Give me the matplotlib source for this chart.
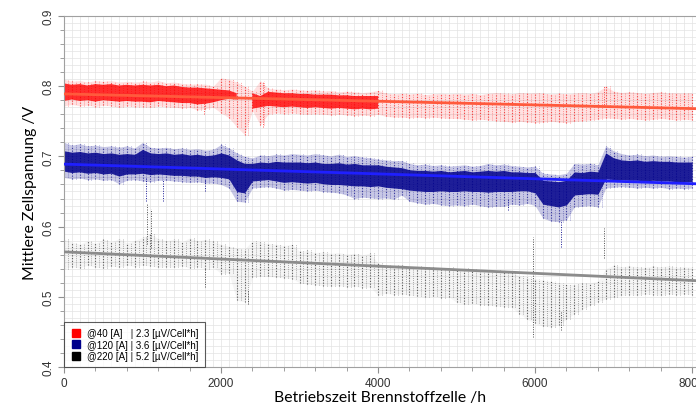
import numpy as np
import matplotlib
matplotlib.use("Agg")
import matplotlib.pyplot as plt
from matplotlib.lines import Line2D
from matplotlib.ticker import MultipleLocator

nan = np.nan

# operating time, one sample every 100 h
hours = list(range(0, 8100, 100))

# @40 A  (outer scatter extent and dense core)
red_hi = [0.810, 0.807, 0.808, 0.806, 0.808, 0.807, 0.808, 0.806, 0.807, 0.806,
          0.807, 0.806, 0.808, 0.805, 0.806, 0.804, 0.803, 0.803, 0.803, 0.800,
          0.812, 0.810, 0.806, 0.800, 0.793, 0.808, 0.797, 0.796, 0.795, 0.796,
          0.795, 0.794, 0.795, 0.793, 0.794, 0.792, 0.793, 0.792, 0.791, 0.792,
          0.794, 0.790, 0.789, 0.790, 0.789, 0.790, 0.788, 0.789, 0.790, 0.789,
          0.790, 0.789, 0.790, 0.788, 0.790, 0.791, 0.790, 0.789, 0.791, 0.790,
          0.791, 0.790, 0.789, 0.790, 0.789, 0.790, 0.791, 0.790, 0.792, 0.800,
          0.793, 0.791, 0.792, 0.791, 0.790, 0.791, 0.792, 0.790, 0.791, 0.790, 0.791]
red_lo = [0.772, 0.774, 0.772, 0.773, 0.771, 0.773, 0.772, 0.770, 0.772, 0.771,
          0.771, 0.770, 0.772, 0.771, 0.770, 0.769, 0.770, 0.766, 0.768, 0.770,
          0.762, 0.755, 0.742, 0.731, 0.765, 0.745, 0.760, 0.762, 0.761, 0.762,
          0.761, 0.760, 0.761, 0.760, 0.759, 0.760, 0.759, 0.758, 0.759, 0.758,
          0.760, 0.757, 0.756, 0.756, 0.755, 0.756, 0.755, 0.756, 0.755, 0.754,
          0.754, 0.753, 0.752, 0.753, 0.752, 0.751, 0.750, 0.749, 0.750, 0.749,
          0.748, 0.749, 0.750, 0.749, 0.748, 0.750, 0.751, 0.752, 0.753, 0.755,
          0.754, 0.753, 0.754, 0.753, 0.752, 0.753, 0.754, 0.753, 0.752, 0.753, 0.752]
red_core_hi = [0.804, 0.802, 0.803, 0.801, 0.803, 0.802, 0.803, 0.801, 0.802, 0.801,
               0.802, 0.801, 0.802, 0.800, 0.801, 0.799, 0.798, 0.798, 0.797, 0.796,
               0.795, 0.794, 0.790, nan, 0.790, 0.786, 0.792, 0.791, 0.790, 0.790,
               0.789, 0.789, 0.788, 0.788, 0.788, 0.787, 0.787, 0.786, 0.786, 0.786,
               0.786] + [nan] * 40
red_core_lo = [0.779, 0.781, 0.779, 0.780, 0.778, 0.780, 0.779, 0.778, 0.779, 0.778,
               0.778, 0.777, 0.779, 0.778, 0.777, 0.776, 0.776, 0.774, 0.775, 0.777,
               0.780, 0.782, 0.781, nan, 0.768, 0.770, 0.772, 0.771, 0.770, 0.771,
               0.770, 0.769, 0.770, 0.769, 0.768, 0.769, 0.768, 0.767, 0.768, 0.767,
               0.768] + [nan] * 40

# @120 A
blue_hi = [0.720, 0.716, 0.718, 0.715, 0.716, 0.714, 0.715, 0.713, 0.715, 0.712,
           0.720, 0.713, 0.712, 0.713, 0.711, 0.712, 0.710, 0.711, 0.709, 0.710,
           0.717, 0.712, 0.705, 0.700, 0.698, 0.702, 0.701, 0.703, 0.702, 0.704,
           0.703, 0.702, 0.704, 0.702, 0.701, 0.703, 0.700, 0.701, 0.699, 0.698,
           0.696, 0.695, 0.694, 0.694, 0.690, 0.688, 0.689, 0.687, 0.688, 0.686,
           0.687, 0.688, 0.686, 0.687, 0.690, 0.688, 0.689, 0.687, 0.686, 0.685,
           0.686, 0.676, 0.675, 0.674, 0.676, 0.690, 0.689, 0.690, 0.688, 0.715,
           0.708, 0.704, 0.702, 0.703, 0.701, 0.702, 0.700, 0.701, 0.700, 0.699, 0.700]
blue_lo = [0.670, 0.668, 0.669, 0.667, 0.668, 0.666, 0.667, 0.661, 0.666, 0.667,
           0.665, 0.664, 0.666, 0.666, 0.665, 0.664, 0.663, 0.664, 0.662, 0.662,
           0.660, 0.655, 0.636, 0.635, 0.655, 0.656, 0.657, 0.655, 0.652, 0.653,
           0.652, 0.651, 0.652, 0.650, 0.649, 0.648, 0.645, 0.640, 0.642, 0.641,
           0.640, 0.641, 0.639, 0.645, 0.636, 0.634, 0.632, 0.633, 0.631, 0.630,
           0.631, 0.630, 0.632, 0.630, 0.628, 0.629, 0.629, 0.632, 0.631, 0.633,
           0.630, 0.612, 0.608, 0.607, 0.610, 0.628, 0.629, 0.630, 0.628, 0.655,
           0.656, 0.657, 0.656, 0.655, 0.656, 0.655, 0.656, 0.654, 0.655, 0.654, 0.655]
blue_core_hi = [0.708, 0.706, 0.707, 0.705, 0.706, 0.704, 0.705, 0.703, 0.704, 0.703,
                0.710, 0.705, 0.704, 0.705, 0.703, 0.704, 0.702, 0.703, 0.701, 0.702,
                0.705, 0.702, 0.695, 0.690, 0.690, 0.692, 0.691, 0.693, 0.692, 0.692,
                0.692, 0.691, 0.692, 0.690, 0.690, 0.691, 0.689, 0.690, 0.688, 0.688,
                0.688, 0.686, 0.685, 0.684, 0.681, 0.680, 0.680, 0.679, 0.680, 0.678,
                0.679, 0.680, 0.678, 0.679, 0.680, 0.679, 0.680, 0.678, 0.678, 0.677,
                0.677, 0.666, 0.665, 0.664, 0.666, 0.678, 0.677, 0.679, 0.678, 0.705,
                0.698, 0.695, 0.694, 0.695, 0.693, 0.694, 0.693, 0.693, 0.692, 0.692, 0.692]
blue_core_lo = [0.679, 0.677, 0.678, 0.676, 0.677, 0.675, 0.676, 0.672, 0.675, 0.675,
                0.676, 0.674, 0.675, 0.674, 0.673, 0.673, 0.672, 0.672, 0.670, 0.671,
                0.670, 0.668, 0.650, 0.648, 0.665, 0.666, 0.667, 0.665, 0.663, 0.664,
                0.663, 0.662, 0.663, 0.661, 0.660, 0.660, 0.659, 0.658, 0.658, 0.657,
                0.658, 0.656, 0.655, 0.654, 0.652, 0.651, 0.650, 0.650, 0.651, 0.650,
                0.650, 0.651, 0.650, 0.650, 0.649, 0.650, 0.650, 0.650, 0.651, 0.651,
                0.648, 0.632, 0.630, 0.628, 0.631, 0.645, 0.646, 0.647, 0.646, 0.668,
                0.667, 0.667, 0.666, 0.666, 0.665, 0.666, 0.665, 0.665, 0.664, 0.664, 0.664]

# @220 A
black_hi = [0.582, 0.578, 0.575, 0.580, 0.576, 0.582, 0.578, 0.583, 0.577, 0.580,
            0.585, 0.590, 0.583, 0.580, 0.582, 0.578, 0.584, 0.580, 0.582, 0.579,
            0.575, 0.572, 0.570, 0.568, 0.580, 0.578, 0.576, 0.575, 0.573, 0.575,
            0.565, 0.566, 0.563, 0.564, 0.562, 0.563, 0.561, 0.562, 0.560, 0.562,
            0.548, 0.545, 0.546, 0.546, 0.543, 0.544, 0.542, 0.543, 0.541, 0.542,
            0.540, 0.541, 0.539, 0.538, 0.537, 0.538, 0.536, 0.535, 0.530, 0.528,
            0.526, 0.524, 0.522, 0.520, 0.518, 0.518, 0.519, 0.520, 0.522, 0.540,
            0.545, 0.543, 0.544, 0.543, 0.542, 0.544, 0.543, 0.544, 0.542, 0.543, 0.542]
black_lo = [0.540, 0.543, 0.541, 0.545, 0.542, 0.541, 0.544, 0.542, 0.545, 0.543,
            0.545, 0.544, 0.542, 0.543, 0.542, 0.544, 0.541, 0.543, 0.540, 0.542,
            0.533, 0.534, 0.495, 0.493, 0.528, 0.530, 0.529, 0.528, 0.527, 0.526,
            0.520, 0.518, 0.517, 0.516, 0.515, 0.516, 0.514, 0.515, 0.513, 0.514,
            0.502, 0.505, 0.503, 0.504, 0.502, 0.501, 0.500, 0.501, 0.499, 0.500,
            0.492, 0.490, 0.491, 0.489, 0.488, 0.487, 0.486, 0.485, 0.476, 0.468,
            0.462, 0.458, 0.457, 0.460, 0.468, 0.476, 0.482, 0.488, 0.493, 0.497,
            0.500, 0.502, 0.503, 0.502, 0.504, 0.503, 0.502, 0.504, 0.503, 0.504, 0.503]

# isolated vertical streaks: (hour, low, high)
red_spikes = [(1780, 0.760, 0.778), (2540, 0.742, 0.806), (6880, 0.770, 0.800)]
blue_spikes = [(1050, 0.636, 0.670), (1265, 0.636, 0.668), (1800, 0.651, 0.668),
               (5650, 0.623, 0.640), (6330, 0.571, 0.610)]
black_spikes = [(1060, 0.575, 0.632), (1110, 0.570, 0.625), (1800, 0.514, 0.540),
                (2350, 0.490, 0.510), (5970, 0.443, 0.585), (6330, 0.452, 0.480),
                (6880, 0.555, 0.598)]

# linear trend lines: value at 0 h and at the right edge
trend_x = [0, 8050]
red_trend = [0.789, 0.768]
blue_trend = [0.689, 0.661]
black_trend = [0.564, 0.523]

labels = ["@40 [A]   | 2.3 [µV/Cell*h]",
          "@120 [A] | 3.6 [µV/Cell*h]",
          "@220 [A] | 5.2 [µV/Cell*h]"]

DOTS = (0, (1, 1.5))


def band(ax, lo, hi, color, alpha, streak_alpha=0.0):
    lo = np.array(lo, dtype=float)
    hi = np.array(hi, dtype=float)
    ax.fill_between(hours, lo, hi, color=color, alpha=alpha, linewidth=0, zorder=2)
    if streak_alpha:
        # dotted vertical streaks give the band a scatter-like texture
        ax.vlines(hours, lo, hi, color=color, linewidth=0.8, linestyles=[DOTS],
                  alpha=streak_alpha, zorder=2)
        ax.vlines(np.array(hours) + 50, lo, hi, color=color, linewidth=0.6,
                  linestyles=[DOTS], alpha=streak_alpha * 0.7, zorder=2)


def spikes(ax, sp, color, alpha=0.8):
    xs, los, his = zip(*sp)
    ax.vlines(xs, los, his, color=color, linewidth=0.7, linestyles=[DOTS],
              alpha=alpha, zorder=3)


fig = plt.figure(figsize=(6.96, 4.10), dpi=100)
ax = fig.add_axes([64 / 696, 1 - 368 / 410, 1 - 64 / 696, (368 - 17) / 410])

red, blue, black = "#ff0000", "#00008b", "#000000"

band(ax, red_lo, red_hi, red, 0.12, streak_alpha=0.7)
band(ax, red_core_lo, red_core_hi, red, 0.8)
band(ax, blue_lo, blue_hi, blue, 0.22, streak_alpha=0.7)
band(ax, blue_core_lo, blue_core_hi, blue, 0.85)
band(ax, black_lo, black_hi, black, 0.04, streak_alpha=0.6)
spikes(ax, red_spikes, red, 0.7)
spikes(ax, blue_spikes, blue, 0.9)
spikes(ax, black_spikes, black, 0.7)

ax.plot(trend_x, red_trend, color="#ff5a3c", lw=2, zorder=4)
ax.plot(trend_x, blue_trend, color="#1f1fff", lw=2, zorder=4)
ax.plot(trend_x, black_trend, color="#8c8c8c", lw=2, zorder=4)

ax.set_xlim(0, 8050)
ax.set_ylim(0.4, 0.9)
ax.xaxis.set_major_locator(MultipleLocator(2000))
ax.xaxis.set_minor_locator(MultipleLocator(400))
ax.yaxis.set_major_locator(MultipleLocator(0.1))
ax.yaxis.set_minor_locator(MultipleLocator(0.02))
for v in range(0, 8100, 100):
    ax.axvline(v, color="#e3e3e3", lw=0.5, zorder=0)
for v in np.arange(0.40, 0.9, 0.01):
    ax.axhline(v, color="#e3e3e3", lw=0.5, zorder=0)

ax.tick_params(which="both", direction="out", color="#909090",
               labelsize=8.5, labelcolor="#333333", pad=3)
ax.tick_params(which="major", length=4)
ax.tick_params(which="minor", length=3)
ax.set_yticklabels([f"{v:.1f}" for v in ax.get_yticks()], rotation=90,
                   va="center", family="Liberation Sans")
for t in ax.get_xticklabels():
    t.set_family("Liberation Sans")
for s in ["top", "left", "bottom"]:
    ax.spines[s].set_color("#a0a0a0")
ax.spines["right"].set_visible(False)

ax.set_ylabel("Mittlere Zellspannung /V", family="Lato", fontsize=11.3, labelpad=4)
ax.set_xlabel("Betriebszeit Brennstoffzelle /h", family="Lato", fontsize=11.3, labelpad=1)

handles = [Line2D([], [], ls="none", marker="s", markersize=6, color=c)
           for c in (red, blue, black)]
leg = ax.legend(handles, labels, loc="lower left", bbox_to_anchor=(0, 0),
                prop={"family": "Liberation Sans", "size": 7}, frameon=True,
                fancybox=False, borderaxespad=0, handletextpad=0.6,
                labelspacing=0.15, borderpad=0.6, handlelength=1.2)
leg.get_frame().set_edgecolor("#333333")
leg.get_frame().set_linewidth(0.8)
leg.set_zorder(5)

fig.savefig("out.png", dpi=100)
